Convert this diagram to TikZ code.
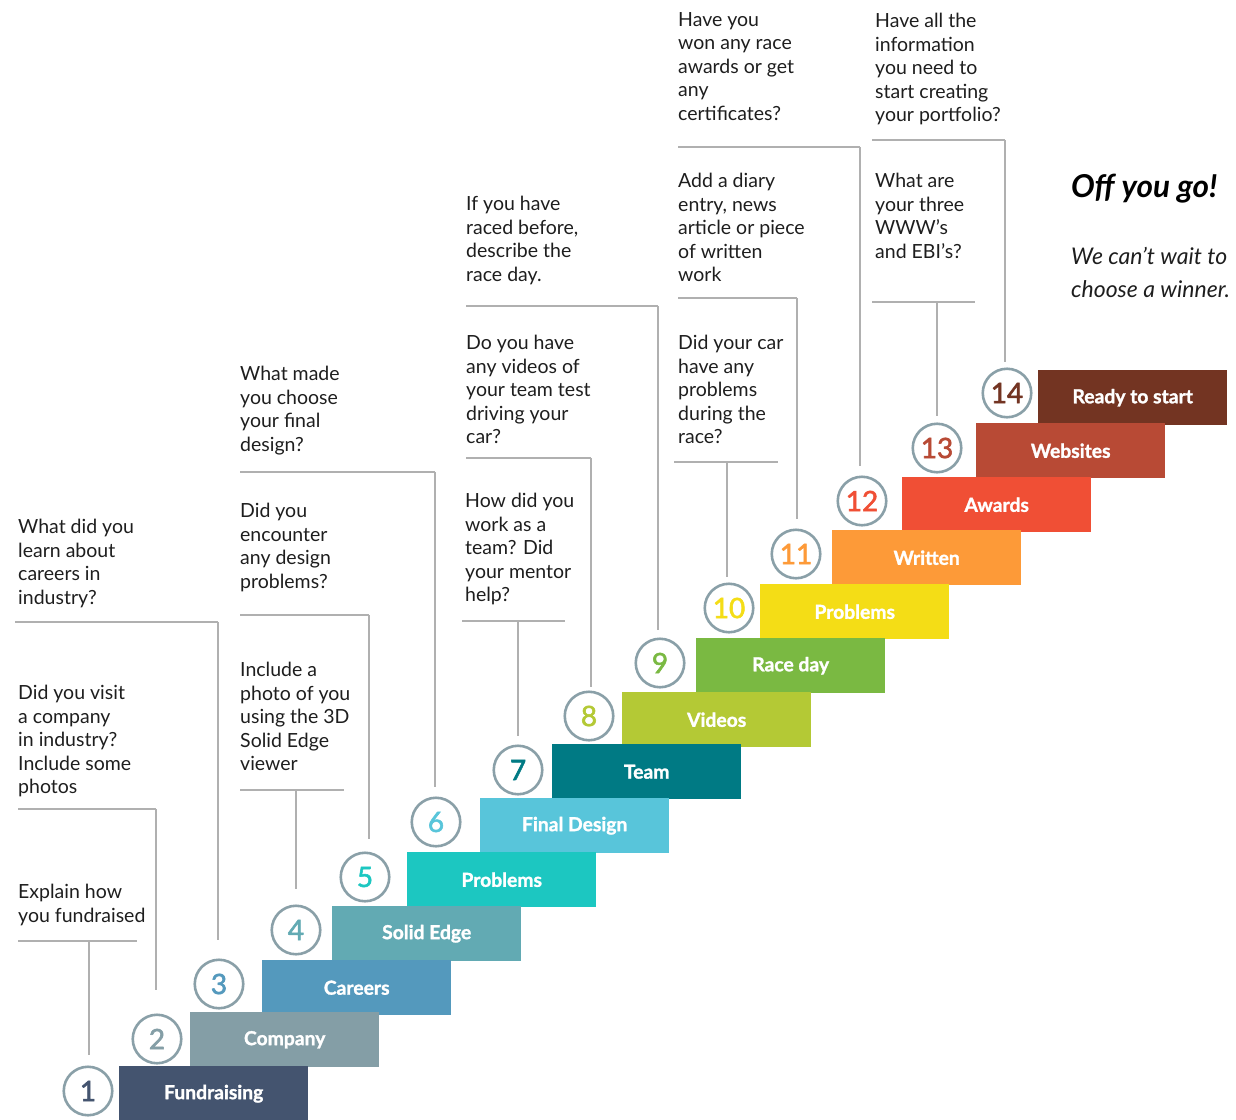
\documentclass[tikz,border=0pt]{standalone}
\usepackage{fontspec}
\setmainfont{Lato}
\newfontfamily\barfont{Lato}[FakeBold=1.4]
\newfontfamily\numfont{Lato}[FakeBold=2]
\definecolor{txt}{HTML}{1E1E1E}
\definecolor{linec}{HTML}{B0B0B0}
\definecolor{ringc}{HTML}{8AA0A8}
\definecolor{cA}{HTML}{44546F}
\definecolor{cB}{HTML}{849EA6}
\definecolor{cC}{HTML}{5499BD}
\definecolor{cD}{HTML}{62AAB3}
\definecolor{cE}{HTML}{1CC7C1}
\definecolor{cF}{HTML}{58C5DA}
\definecolor{cG}{HTML}{007A84}
\definecolor{cH}{HTML}{B4C935}
\definecolor{cI}{HTML}{7AB942}
\definecolor{cJ}{HTML}{F4DD16}
\definecolor{cK}{HTML}{FD9A38}
\definecolor{cL}{HTML}{F04F35}
\definecolor{cM}{HTML}{B84A35}
\definecolor{cN}{HTML}{733422}
\begin{document}
\begin{tikzpicture}[x=1pt,y=-1pt,
  qtext/.style={anchor=north west,inner sep=0pt,align=left,text=txt,font=\fontsize{19.5}{23.6}\selectfont},
  stepbar/.style={rectangle,anchor=north west,minimum width=189pt,minimum height=55pt,inner sep=0pt,text=white,font=\barfont\bfseries\fontsize{19.3}{22}\selectfont,fill=#1},
  numring/.style={circle,draw=ringc,line width=2.6pt,minimum size=48.5pt,inner sep=0pt,fill=white,text=#1,font=\numfont\fontsize{28}{30}\selectfont},
  conn/.style={draw=linec,line width=1.3pt}]
\useasboundingbox (0,0) rectangle (1236,1119);

% question texts
\node[qtext] (t1) at (18,884) {Explain how\\you fundraised};
\node[qtext] (t2) at (18,685) {Did you visit\\a company\\in industry?\\Include some\\photos};
\node[qtext] (t3) at (18,519) {What did you\\learn about\\careers in\\industry?};
\node[qtext] (t4) at (240,662) {Include a\\photo of you\\using the 3D\\Solid Edge\\viewer};
\node[qtext] (t5) at (240,503) {Did you\\encounter\\any design\\problems?};
\node[qtext] (t6) at (240,366) {What made\\you choose\\your final\\design?};
\node[qtext] (t7) at (465,493) {How did you\\work as a\\team? Did\\your mentor\\help?};
\node[qtext] (t8) at (466,335) {Do you have\\any videos of\\your team test\\driving your\\car?};
\node[qtext] (t9) at (466,196) {If you have\\raced before,\\describe the\\race day.};
\node[qtext] (t10) at (678,335) {Did your car\\have any\\problems\\during the\\race?};
\node[qtext] (t11) at (678,173) {Add a diary\\entry, news\\article or piece\\of written\\work};
\node[qtext] (t12) at (678,12) {Have you\\won any race\\awards or get\\any\\certificates?};
\node[qtext] (t13) at (875,173) {What are\\your three\\WWW’s\\and EBI’s?};
\node[qtext] (t14) at (875,13) {Have all the\\information\\you need to\\start creating\\your portfolio?};

% connector coordinates: left end, right end, junction, bottom end
\coordinate (a1) at (18,941);  \coordinate (b1) at (137,941);  \coordinate (j1) at (89,941);  \coordinate (e1) at (89,1055);
\coordinate (a2) at (18,809);  \coordinate (b2) at (156,809);  \coordinate (j2) at (156,809); \coordinate (e2) at (156,990);
\coordinate (a3) at (15,622);  \coordinate (b3) at (218,622);  \coordinate (j3) at (218,622); \coordinate (e3) at (218,940);
\coordinate (a4) at (240,790); \coordinate (b4) at (344,790);  \coordinate (j4) at (296,790); \coordinate (e4) at (296,889);
\coordinate (a5) at (240,615); \coordinate (b5) at (369,615);  \coordinate (j5) at (369,615); \coordinate (e5) at (369,839);
\coordinate (a6) at (240,472); \coordinate (b6) at (435,472);  \coordinate (j6) at (435,472); \coordinate (e6) at (435,787);
\coordinate (a7) at (462,621); \coordinate (b7) at (565,621);  \coordinate (j7) at (518,621); \coordinate (e7) at (518,736);
\coordinate (a8) at (466,458); \coordinate (b8) at (591,458);  \coordinate (j8) at (591,458); \coordinate (e8) at (591,687);
\coordinate (a9) at (466,306); \coordinate (b9) at (658,306);  \coordinate (j9) at (658,306); \coordinate (e9) at (658,630);
\coordinate (a10) at (674,462); \coordinate (b10) at (778,462); \coordinate (j10) at (727,462); \coordinate (e10) at (727,577);
\coordinate (a11) at (678,298); \coordinate (b11) at (797,298); \coordinate (j11) at (797,298); \coordinate (e11) at (797,519);
\coordinate (a12) at (678,147); \coordinate (b12) at (860,147); \coordinate (j12) at (860,147); \coordinate (e12) at (860,466);
\coordinate (a13) at (872,302); \coordinate (b13) at (975,302); \coordinate (j13) at (937,302); \coordinate (e13) at (937,416);
\coordinate (a14) at (872,140); \coordinate (b14) at (1005,140); \coordinate (j14) at (1005,140); \coordinate (e14) at (1005,362);
\foreach \i in {1,...,14}{
  \draw[conn] (a\i) -- (b\i);
  \draw[conn] (j\i) -- (e\i);
}

% step bars
\node[stepbar=cN] (s14) at (1038,370) {Ready to start};
\node[stepbar=cM] (s13) at (976,423) {Websites};
\node[stepbar=cL] (s12) at (902,477) {Awards};
\node[stepbar=cK] (s11) at (832,530) {Written};
\node[stepbar=cJ] (s10) at (760,584) {Problems};
\node[stepbar=cI] (s9) at (696,638) {Race day};
\node[stepbar=cH] (s8) at (622,692) {Videos};
\node[stepbar=cG] (s7) at (552,744) {Team};
\node[stepbar=cF] (s6) at (480,798) {Final Design};
\node[stepbar=cE] (s5) at (407,852) {Problems};
\node[stepbar=cD] (s4) at (332,906) {Solid Edge};
\node[stepbar=cC] (s3) at (262,960) {Careers};
\node[stepbar=cB] (s2) at (190,1012) {Company};
\node[stepbar=cA] (s1) at (119,1066) {Fundraising};

% numbered rings
\node[numring=cA] (n1) at (88,1091) {1};
\node[numring=cB] (n2) at (157,1039) {2};
\node[numring=cC] (n3) at (219,984) {3};
\node[numring=cD] (n4) at (296,930) {4};
\node[numring=cE] (n5) at (365,877) {5};
\node[numring=cF] (n6) at (436,822) {6};
\node[numring=cG] (n7) at (518,770) {7};
\node[numring=cH] (n8) at (589,716) {8};
\node[numring=cI] (n9) at (660,663) {9};
\node[numring=cJ] (n10) at (729,608) {10};
\node[numring=cK] (n11) at (796,554) {11};
\node[numring=cL] (n12) at (862,501) {12};
\node[numring=cM] (n13) at (937,448) {13};
\node[numring=cN] (n14) at (1007,393) {14};

% closing text
\node[anchor=base west,inner sep=0pt,text=black,font=\bfseries\itshape\fontsize{31.5}{34}\selectfont] (go) at (1071,197) {Off you go!};
\node[anchor=north west,inner sep=0pt,align=left,text=txt,font=\itshape\fontsize{23}{33}\selectfont] (wait) at (1071,247) {We can’t wait to\\choose a winner.};
\end{tikzpicture}
\end{document}
